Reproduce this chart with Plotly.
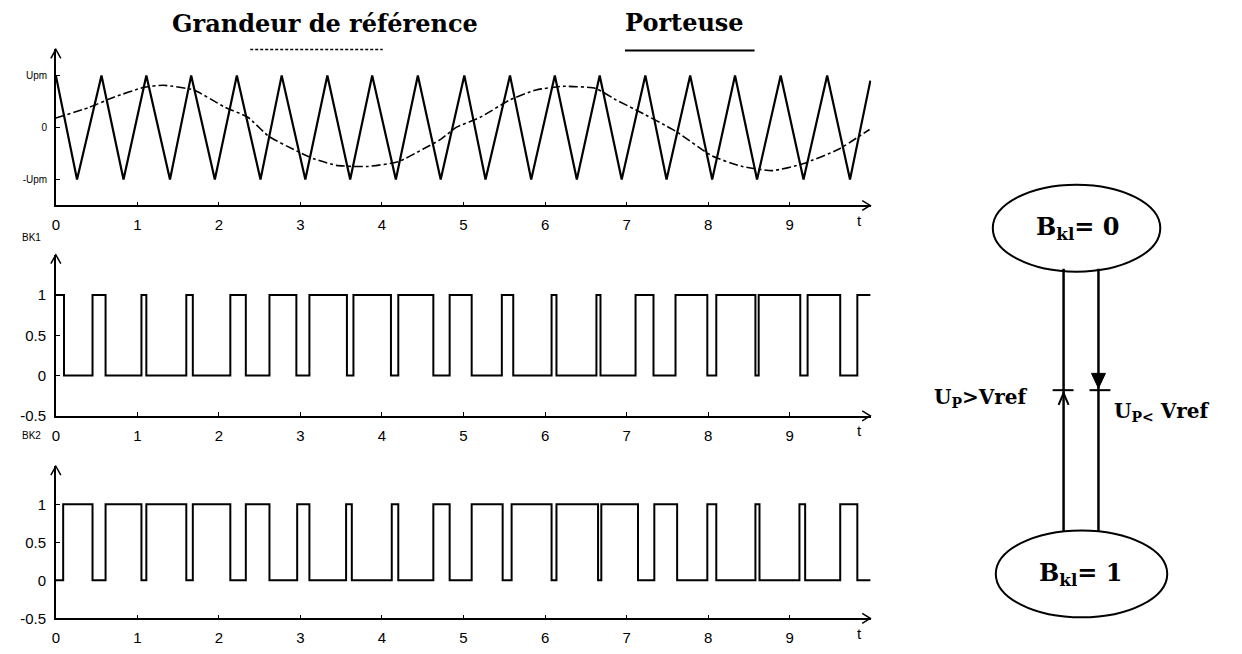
import plotly.graph_objects as go

W, H = 1242, 654

# ---- data -------------------------------------------------------------
# triangular carrier (Porteuse): vertex times and levels (in units of Upm)
carrier_t = [0.00, 0.26, 0.56, 0.83, 1.11, 1.40, 1.66, 1.95, 2.22, 2.51, 2.77,
             3.06, 3.33, 3.61, 3.88, 4.17, 4.44, 4.72, 5.01, 5.27, 5.57, 5.83,
             6.12, 6.39, 6.67, 6.94, 7.23, 7.49, 7.78, 8.05, 8.33, 8.60, 8.89,
             9.17, 9.46, 9.74, 9.99]
carrier_v = [1, -1, 1, -1, 1, -1, 1, -1, 1, -1, 1, -1, 1, -1, 1, -1, 1, -1, 1,
             -1, 1, -1, 1, -1, 1, -1, 1, -1, 1, -1, 1, -1, 1, -1, 1, -1, 0.9]

# reference quantity (Grandeur de référence)
ref_t = [0.00, 0.40, 0.71, 1.08, 1.32, 1.69, 2.06, 2.36, 2.61, 2.95, 3.16,
         3.44, 3.65, 3.83, 4.20, 4.50, 4.72, 4.91, 5.20, 5.57, 5.89, 6.22,
         6.62, 6.87, 7.11, 7.60, 8.05, 8.42, 8.79, 9.16, 9.60, 9.98]
ref_v = [0.18, 0.38, 0.58, 0.77, 0.81, 0.72, 0.40, 0.19, -0.17, -0.45, -0.60,
         -0.73, -0.75, -0.75, -0.66, -0.42, -0.23, 0.00, 0.19, 0.53, 0.72, 0.79,
         0.75, 0.53, 0.34, -0.07, -0.55, -0.75, -0.83, -0.70, -0.42, -0.04]

# switching signals: initial state and toggle instants
bk1_start = 1
bk1_switch = [0.10, 0.45, 0.61, 1.05, 1.11, 1.60, 1.68, 2.14, 2.33, 2.62, 2.95,
              3.11, 3.57, 3.65, 4.11, 4.20, 4.63, 4.83, 5.10, 5.47, 5.61, 6.08,
              6.14, 6.63, 6.68, 7.11, 7.33, 7.60, 7.99, 8.10, 8.58, 8.62, 9.13,
              9.22, 9.62, 9.83]
bk2_start = 0
bk2_switch = [0.09, 0.45, 0.61, 1.05, 1.11, 1.60, 1.68, 2.14, 2.33, 2.62, 2.96,
              3.11, 3.56, 3.63, 4.12, 4.20, 4.63, 4.83, 5.10, 5.48, 5.59, 6.08,
              6.14, 6.65, 6.69, 7.14, 7.34, 7.62, 7.99, 8.10, 8.58, 8.63, 9.12,
              9.19, 9.62, 9.83]
t_end = 9.99

x_ticks = [0, 1, 2, 3, 4, 5, 6, 7, 8, 9]
x_tick_text = ["0", "1", "2", "3", "4", "5", "6", "7", "8", "9"]
top_y_ticks = [-1, 0, 1]
top_y_text = ["-Upm", "0", "Upm"]
bk_y_ticks = [-0.5, 0, 0.5, 1]
bk_y_text = ["-0.5", "0", "0.5", "1"]


def step_xy(start, switches, end):
    xs, ys, level = [0.0], [start], start
    for s in switches:
        level = 1 - level
        xs.append(s)
        ys.append(level)
    xs.append(end)
    ys.append(level)
    return xs, ys


def px(x):
    return x / W


def py(y):
    return 1 - y / H


def label(x, y, text, font, xanchor="center"):
    return dict(x=px(x), y=py(y), xref="paper", yref="paper", text=text,
                showarrow=False, font=font, xanchor=xanchor, yanchor="middle")


def polyline(points, width=1.5, closed=False, fill=None):
    path = "M " + " L ".join(f"{px(a)},{py(b)}" for a, b in points)
    if closed:
        path += " Z"
    shp = dict(type="path", xref="paper", yref="paper", path=path,
               line=dict(color="black", width=width))
    if fill:
        shp["fillcolor"] = fill
    return shp


# ---- figure -----------------------------------------------------------
fig = go.Figure()
fig.add_trace(go.Scatter(x=ref_t, y=ref_v, mode="lines", xaxis="x", yaxis="y",
                         line=dict(color="black", width=1.6, dash="dashdot",
                                   shape="spline", smoothing=0.5)))
fig.add_trace(go.Scatter(x=carrier_t, y=carrier_v, mode="lines", xaxis="x", yaxis="y",
                         line=dict(color="black", width=2.2)))
bx, by = step_xy(bk1_start, bk1_switch, t_end)
fig.add_trace(go.Scatter(x=bx, y=by, mode="lines", xaxis="x2", yaxis="y2",
                         line=dict(color="black", width=2, shape="hv")))
bx, by = step_xy(bk2_start, bk2_switch, t_end)
fig.add_trace(go.Scatter(x=bx, y=by, mode="lines", xaxis="x3", yaxis="y3",
                         line=dict(color="black", width=2, shape="hv")))

X_LEFT, X_RIGHT = 52, 870
panels = [  # (bottom px, top px, y range)
    (208, 50, [-1.5, 1.5]),
    (421, 258, [-0.5, 1.5]),
    (626, 472, [-0.5, 1.5]),
]

tick_font = dict(family="Liberation Sans, Arial", size=15, color="black")
small_font = dict(family="Liberation Sans, Arial", size=10, color="black")
common = dict(showline=True, linecolor="black", linewidth=1.5, showgrid=False,
              zeroline=False, ticks="inside", ticklen=4, tickwidth=1.2,
              tickcolor="black", fixedrange=True)

layout_axes = {}
for i, (yb, yt, yr) in enumerate(panels):
    n = "" if i == 0 else str(i + 1)
    layout_axes["xaxis" + n] = dict(
        common, domain=[px(X_LEFT), px(X_RIGHT)], range=[0, 10.0],
        anchor="y" + n, tickvals=x_ticks, ticktext=x_tick_text,
        tickfont=tick_font, ticklabelstandoff=5)
    if i == 0:
        ytv, ytt, yfont = top_y_ticks, top_y_text, small_font
    else:
        ytv, ytt, yfont = bk_y_ticks, bk_y_text, tick_font
    layout_axes["yaxis" + n] = dict(
        common, domain=[py(yb), py(yt)], range=yr, anchor="x" + n,
        tickvals=ytv, ticktext=ytt, tickfont=yfont, ticklabelstandoff=5)

fig.update_layout(**layout_axes)

annotations = []
shapes = []

# axis arrowheads and "t" labels
for yb, yt, yr in panels:
    xt = X_RIGHT - 1
    shapes.append(polyline([(xt - 8, yb - 5), (xt, yb), (xt - 8, yb + 5)]))
    shapes.append(polyline([(X_LEFT - 5, yt + 9), (X_LEFT, yt), (X_LEFT + 5, yt + 9)]))
    annotations.append(label(858, yb + 15, "t", tick_font))

annotations.append(label(28, 240, "BK1", small_font))
annotations.append(label(28, 441, "BK2", small_font))

# header titles with line-style keys
title_font = dict(family="DejaVu Serif", size=24, color="black", weight="bold")
annotations.append(label(322, 24, "<b>Grandeur de référence</b>", title_font))
annotations.append(label(683, 23, "<b>Porteuse</b>", title_font))
shapes.append(dict(type="line", xref="paper", yref="paper", x0=px(247), x1=px(380),
                   y0=py(50), y1=py(50),
                   line=dict(color="black", width=1.5, dash="3px,2px")))
shapes.append(dict(type="line", xref="paper", yref="paper", x0=px(623), x1=px(753),
                   y0=py(51), y1=py(51), line=dict(color="black", width=2)))

# state diagram
lw = dict(color="black", width=2)
shapes.append(dict(type="circle", xref="paper", yref="paper", x0=px(992), x1=px(1160),
                   y0=py(275), y1=py(187), line=lw))
shapes.append(dict(type="circle", xref="paper", yref="paper", x0=px(995), x1=px(1167),
                   y0=py(625), y1=py(537), line=lw))
for xl in (1063, 1098):
    shapes.append(dict(type="line", xref="paper", yref="paper", x0=px(xl), x1=px(xl),
                       y0=py(272), y1=py(538), line=dict(color="black", width=2.5)))
# transition bars
shapes.append(polyline([(1052, 395), (1073, 395)], width=2))
shapes.append(polyline([(1089, 395), (1110, 395)], width=2))
# upward chevron on the left branch, filled downward head on the right branch
shapes.append(polyline([(1058, 410), (1063, 398), (1068, 410)], width=2))
shapes.append(polyline([(1091, 378), (1105, 378), (1098, 393)], width=1,
                       closed=True, fill="black"))

diag_font = dict(family="DejaVu Serif", size=24, color="black", weight="bold")
annotations.append(label(1077, 231, "<b>B<sub>kl</sub>= 0</b>", diag_font))
annotations.append(label(1080, 581, "<b>B<sub>kl</sub>= 1</b>", diag_font))
lbl_font = dict(family="DejaVu Serif", size=20, color="black", weight="bold")
annotations.append(label(1029, 403, "<b>U<sub>P</sub>>Vref</b>", lbl_font, xanchor="right"))
annotations.append(label(1112, 417, "<b>U<sub>P&lt;</sub> Vref</b>", lbl_font, xanchor="left"))

fig.update_layout(
    width=W, height=H, margin=dict(l=0, r=0, t=0, b=0),
    paper_bgcolor="white", plot_bgcolor="white", showlegend=False,
    annotations=annotations, shapes=shapes,
)

fig.write_html("out.html")
